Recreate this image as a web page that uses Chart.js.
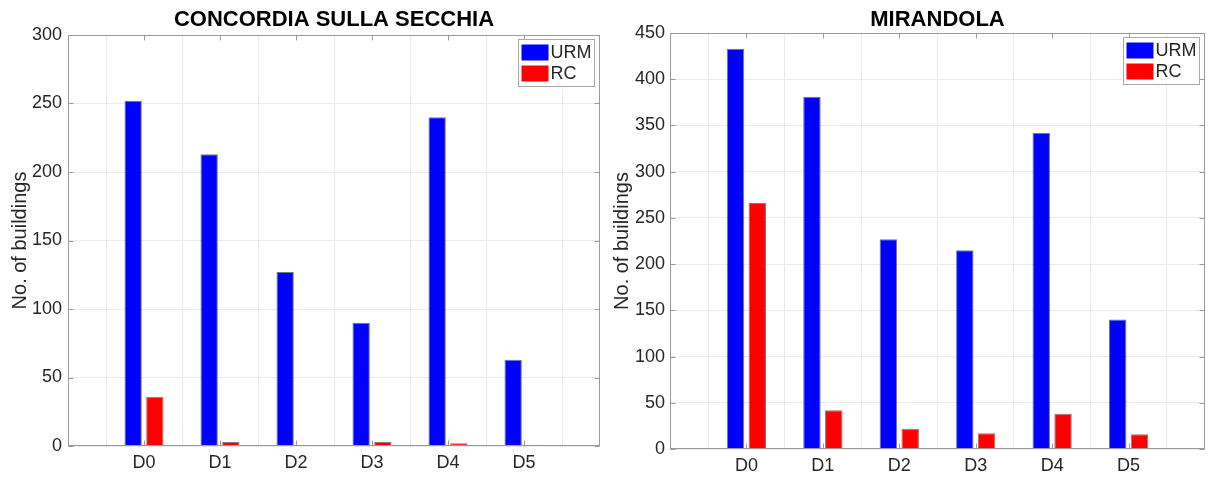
<!DOCTYPE html>
<html>
<head>
<meta charset="utf-8">
<script src="https://cdn.jsdelivr.net/npm/chart.js@4.4.1/dist/chart.umd.min.js"></script>
<style>
  html, body { margin: 0; padding: 0; background: #fff; }
  body { width: 1211px; height: 477px; position: relative; overflow: hidden; }
  .panel { position: absolute; top: 0; height: 477px; }
  #left { left: 0; width: 606px; }
  #right { left: 606px; width: 605px; }
</style>
</head>
<body>
<div class="panel" id="left"><canvas id="concordia"></canvas></div>
<div class="panel" id="right"><canvas id="mirandola"></canvas></div>
<script>
// ---- data ----
const categories = ['D0', 'D1', 'D2', 'D3', 'D4', 'D5'];
const seriesNames = ['URM', 'RC'];

const concordiaURM = [252, 213, 127, 90, 240, 63];
const concordiaRC = [36, 3, 0, 3, 2, 1];
const concordiaTicks = [0, 50, 100, 150, 200, 250, 300];

const mirandolaURM = [433, 381, 227, 215, 342, 140];
const mirandolaRC = [266, 42, 22, 17, 38, 16];
const mirandolaTicks = [0, 50, 100, 150, 200, 250, 300, 350, 400, 450];

const FONT = "'Liberation Sans', Arial, sans-serif";
const TEXT = '#262626';
const FRAME = '#9a9a9a';

// empty slots on each side, as in the MATLAB axes (x from 0 to 7)
const labels = ['', ...categories, ''];
const pad = arr => [null, ...arr, null];

// box around the axes + small inward ticks + legend inside top-right corner
const axesBox = {
  id: 'axesBox',
  afterDraw(chart) {
    const { ctx, chartArea: a, scales } = chart;
    const L = Math.round(a.left) + 0.5, R = Math.round(a.right) - 0.5;
    const T = Math.round(a.top) + 0.5, B = Math.round(a.bottom) - 0.5;
    ctx.save();
    ctx.strokeStyle = FRAME;
    ctx.lineWidth = 1;
    ctx.strokeRect(L, T, R - L, B - T);

    ctx.beginPath();
    scales.x.ticks.forEach((t, i) => {
      if (i === 0 || i === scales.x.ticks.length - 1) return;
      const x = Math.round(scales.x.getPixelForTick(i)) + 0.5;
      ctx.moveTo(x, T); ctx.lineTo(x, T + 5);
      ctx.moveTo(x, B); ctx.lineTo(x, B - 5);
    });
    scales.y.ticks.forEach(t => {
      const y = Math.round(scales.y.getPixelForValue(t.value)) + 0.5;
      ctx.moveTo(L, y); ctx.lineTo(L + 5, y);
      ctx.moveTo(R, y); ctx.lineTo(R - 5, y);
    });
    ctx.stroke();

    // legend
    const bw = 76, bh = 47;
    const bx = Math.round(a.right) - 6 - bw + 0.5;
    const by = Math.round(a.top) + 4 + 0.5;
    ctx.fillStyle = '#fff';
    ctx.fillRect(bx, by, bw, bh);
    ctx.strokeStyle = '#a8a8a8';
    ctx.strokeRect(bx, by, bw, bh);
    ctx.font = '18px ' + FONT;
    ctx.textBaseline = 'middle';
    chart.data.datasets.forEach((ds, i) => {
      const sy = by + 5 + i * 21;
      ctx.fillStyle = ds.backgroundColor;
      ctx.fillRect(bx + 3, sy, 27, 16);
      ctx.fillStyle = TEXT;
      ctx.fillText(ds.label, bx + 32, sy + 8.5);
    });
    ctx.restore();
  }
};

function makeChart(id, title, urm, rc, ticks, geo) {
  return new Chart(document.getElementById(id), {
    type: 'bar',
    data: {
      labels: labels,
      datasets: [
        {
          label: seriesNames[0],
          data: pad(urm),
          backgroundColor: '#0000ff',
          borderColor: 'rgba(0,0,40,0.55)',
          borderWidth: 1,
          categoryPercentage: 0.571,
          barPercentage: 0.8
        },
        {
          label: seriesNames[1],
          data: pad(rc),
          backgroundColor: '#ff0000',
          borderColor: 'rgba(60,0,0,0.55)',
          borderWidth: 1,
          categoryPercentage: 0.571,
          barPercentage: 0.8
        }
      ]
    },
    options: {
      responsive: true,
      maintainAspectRatio: false,
      animation: false,
      layout: { padding: { left: 0, right: geo.padRight, top: 0, bottom: 0 } },
      plugins: {
        legend: { display: false },
        tooltip: { enabled: false },
        title: {
          display: true,
          text: title,
          fullSize: false,
          color: '#000',
          font: { family: FONT, size: 22, weight: 'bold' },
          padding: { top: geo.titleTop, bottom: geo.titleBottom }
        }
      },
      scales: {
        x: {
          offset: false,
          border: { display: false },
          grid: { color: '#ebebeb', drawTicks: false },
          ticks: { color: TEXT, font: { family: FONT, size: 18 }, padding: 6, maxRotation: 0, autoSkip: false },
          afterFit: s => { s.height = geo.xHeight; }
        },
        y: {
          min: ticks[0],
          max: ticks[ticks.length - 1],
          border: { display: false },
          grid: { color: '#ebebeb', drawTicks: false },
          ticks: { stepSize: ticks[1] - ticks[0], color: TEXT, font: { family: FONT, size: 18 }, padding: geo.tickPad },
          title: {
            display: true,
            text: 'No. of buildings',
            color: TEXT,
            font: { family: FONT, size: 20 },
            padding: { top: geo.yTitlePad, bottom: 0 }
          },
          afterFit: s => { s.width = geo.yWidth; }
        }
      }
    },
    plugins: [axesBox]
  });
}

makeChart('concordia', 'CONCORDIA SULLA SECCHIA', concordiaURM, concordiaRC, concordiaTicks,
  { padRight: 4, titleTop: 7, titleBottom: 1.6, xHeight: 31, yWidth: 68, tickPad: 6, yTitlePad: 8 });

makeChart('mirandola', 'MIRANDOLA', mirandolaURM, mirandolaRC, mirandolaTicks,
  { padRight: 3, titleTop: 6.6, titleBottom: 0, xHeight: 28, yWidth: 64, tickPad: 5, yTitlePad: 4 });
</script>
</body>
</html>
